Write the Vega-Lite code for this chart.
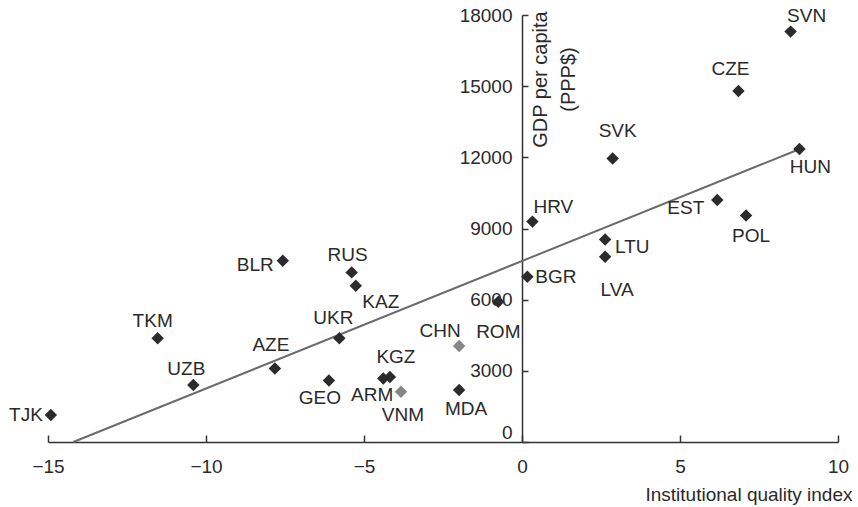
{
  "$schema": "https://vega.github.io/schema/vega-lite/v6.json",
  "width": 790,
  "height": 427,
  "autosize": {"type": "none"},
  "padding": {"left": 48, "top": 15, "right": 20, "bottom": 65},
  "background": "white",
  "config": {
    "font": "Liberation Sans",
    "view": {"stroke": null},
    "axis": {
      "grid": false,
      "domainColor": "#333333",
      "tickColor": "#333333",
      "domainWidth": 1.5,
      "tickWidth": 1.5,
      "labelFont": "Liberation Sans",
      "labelFontSize": 19,
      "labelColor": "#2a2a2a",
      "titleFont": "Liberation Sans",
      "titleFontSize": 19,
      "titleFontWeight": "normal",
      "titleColor": "#2a2a2a"
    }
  },
  "datasets": {
    "pts": [
      {"country": "SVN", "iqi": 8.5, "gdp": 17300},
      {"country": "CZE", "iqi": 6.85, "gdp": 14800},
      {"country": "HUN", "iqi": 8.78, "gdp": 12350},
      {"country": "EST", "iqi": 6.18, "gdp": 10200},
      {"country": "POL", "iqi": 7.09, "gdp": 9550},
      {"country": "SVK", "iqi": 2.87, "gdp": 11950},
      {"country": "HRV", "iqi": 0.33, "gdp": 9290},
      {"country": "LTU", "iqi": 2.63, "gdp": 8540},
      {"country": "LVA", "iqi": 2.63, "gdp": 7810},
      {"country": "BGR", "iqi": 0.17, "gdp": 6970},
      {"country": "ROM", "iqi": -0.75, "gdp": 5910},
      {"country": "CHN", "iqi": -1.99, "gdp": 4050},
      {"country": "MDA", "iqi": -1.99, "gdp": 2190},
      {"country": "KGZ", "iqi": -4.18, "gdp": 2740},
      {"country": "ARM", "iqi": -4.39, "gdp": 2680},
      {"country": "VNM", "iqi": -3.83, "gdp": 2120},
      {"country": "UKR", "iqi": -5.78, "gdp": 4370},
      {"country": "AZE", "iqi": -7.82, "gdp": 3100},
      {"country": "GEO", "iqi": -6.11, "gdp": 2590},
      {"country": "UZB", "iqi": -10.4, "gdp": 2400},
      {"country": "TKM", "iqi": -11.53, "gdp": 4370},
      {"country": "TJK", "iqi": -14.91, "gdp": 1140},
      {"country": "BLR", "iqi": -7.57, "gdp": 7640},
      {"country": "RUS", "iqi": -5.39, "gdp": 7150},
      {"country": "KAZ", "iqi": -5.26, "gdp": 6590}
    ],
    "fit": [
      {"iqi": -14.2, "gdp": 0},
      {"iqi": 8.75, "gdp": 12330}
    ]
  },
  "encoding": {
    "x": {
      "field": "iqi",
      "type": "quantitative",
      "scale": {"domain": [-15, 10], "nice": false, "zero": false},
      "axis": {
        "values": [-15, -10, -5, 0, 5, 10],
        "tickSize": -7,
        "labelFlush": false,
        "labelPadding": 22,
        "title": "Institutional quality index",
        "titleAnchor": "end",
        "titleAlign": "right",
        "titleBaseline": "middle",
        "titleX": 804,
        "titleY": 52
      }
    },
    "y": {
      "field": "gdp",
      "type": "quantitative",
      "scale": {"domain": [0, 18000], "nice": false},
      "axis": {
        "values": [0, 3000, 6000, 9000, 12000, 15000, 18000],
        "format": "d",
        "offset": -474,
        "tickSize": -6,
        "labelFlush": false,
        "labelPadding": 16,
        "labelBaseline": {"expr": "datum.value == 0 ? 'bottom' : 'middle'"},
        "title": ["GDP per capita", "(PPP$)"],
        "titleFontSize": 20,
        "titleAngle": -90,
        "titleAlign": "center",
        "titleBaseline": "middle",
        "titleLineHeight": 28,
        "titleX": 18,
        "titleY": 64
      }
    }
  },
  "layer": [
    {
      "data": {"name": "fit"},
      "mark": {"type": "line", "color": "#6b6b6b", "strokeWidth": 2}
    },
    {
      "data": {"name": "pts"},
      "mark": {"type": "point", "shape": "diamond", "filled": true, "size": 155, "opacity": 1},
      "encoding": {
        "color": {
          "condition": {"test": "datum.country == 'CHN' || datum.country == 'VNM'", "value": "#868686"},
          "value": "#2b2b2b"
        }
      }
    },
    {
      "data": {"name": "pts"},
      "encoding": {"text": {"field": "country", "type": "nominal"}},
      "layer": [
        {"transform": [{"filter": "datum.country == 'SVN'"}], "mark": {"type": "text", "fontSize": 19, "color": "#2a2a2a", "baseline": "middle", "align": "center", "dx": 16, "dy": -16}},
        {"transform": [{"filter": "datum.country == 'CZE'"}], "mark": {"type": "text", "fontSize": 19, "color": "#2a2a2a", "baseline": "middle", "align": "center", "dx": -8, "dy": -22}},
        {"transform": [{"filter": "datum.country == 'HUN'"}], "mark": {"type": "text", "fontSize": 19, "color": "#2a2a2a", "baseline": "middle", "align": "center", "dx": 11, "dy": 18}},
        {"transform": [{"filter": "datum.country == 'EST'"}], "mark": {"type": "text", "fontSize": 19, "color": "#2a2a2a", "baseline": "middle", "align": "right", "dx": -13, "dy": 8}},
        {"transform": [{"filter": "datum.country == 'POL'"}], "mark": {"type": "text", "fontSize": 19, "color": "#2a2a2a", "baseline": "middle", "align": "center", "dx": 5, "dy": 21}},
        {"transform": [{"filter": "datum.country == 'SVK'"}], "mark": {"type": "text", "fontSize": 19, "color": "#2a2a2a", "baseline": "middle", "align": "center", "dx": 5, "dy": -28}},
        {"transform": [{"filter": "datum.country == 'HRV'"}], "mark": {"type": "text", "fontSize": 19, "color": "#2a2a2a", "baseline": "middle", "align": "left", "dx": 1, "dy": -15}},
        {"transform": [{"filter": "datum.country == 'LTU'"}], "mark": {"type": "text", "fontSize": 19, "color": "#2a2a2a", "baseline": "middle", "align": "left", "dx": 10, "dy": 8}},
        {"transform": [{"filter": "datum.country == 'LVA'"}], "mark": {"type": "text", "fontSize": 19, "color": "#2a2a2a", "baseline": "middle", "align": "center", "dx": 12, "dy": 33}},
        {"transform": [{"filter": "datum.country == 'BGR'"}], "mark": {"type": "text", "fontSize": 19, "color": "#2a2a2a", "baseline": "middle", "align": "left", "dx": 8, "dy": 0}},
        {"transform": [{"filter": "datum.country == 'ROM'"}], "mark": {"type": "text", "fontSize": 19, "color": "#2a2a2a", "baseline": "middle", "align": "center", "dx": 0, "dy": 30}},
        {"transform": [{"filter": "datum.country == 'CHN'"}], "mark": {"type": "text", "fontSize": 19, "color": "#2a2a2a", "baseline": "middle", "align": "center", "dx": -19, "dy": -15}},
        {"transform": [{"filter": "datum.country == 'MDA'"}], "mark": {"type": "text", "fontSize": 19, "color": "#2a2a2a", "baseline": "middle", "align": "center", "dx": 7, "dy": 19}},
        {"transform": [{"filter": "datum.country == 'KGZ'"}], "mark": {"type": "text", "fontSize": 19, "color": "#2a2a2a", "baseline": "middle", "align": "center", "dx": 6, "dy": -20}},
        {"transform": [{"filter": "datum.country == 'ARM'"}], "mark": {"type": "text", "fontSize": 19, "color": "#2a2a2a", "baseline": "middle", "align": "right", "dx": 10, "dy": 17}},
        {"transform": [{"filter": "datum.country == 'VNM'"}], "mark": {"type": "text", "fontSize": 19, "color": "#2a2a2a", "baseline": "middle", "align": "center", "dx": 2, "dy": 23}},
        {"transform": [{"filter": "datum.country == 'UKR'"}], "mark": {"type": "text", "fontSize": 19, "color": "#2a2a2a", "baseline": "middle", "align": "center", "dx": -6, "dy": -20}},
        {"transform": [{"filter": "datum.country == 'AZE'"}], "mark": {"type": "text", "fontSize": 19, "color": "#2a2a2a", "baseline": "middle", "align": "center", "dx": -4, "dy": -23}},
        {"transform": [{"filter": "datum.country == 'GEO'"}], "mark": {"type": "text", "fontSize": 19, "color": "#2a2a2a", "baseline": "middle", "align": "center", "dx": -9, "dy": 17}},
        {"transform": [{"filter": "datum.country == 'UZB'"}], "mark": {"type": "text", "fontSize": 19, "color": "#2a2a2a", "baseline": "middle", "align": "center", "dx": -7, "dy": -16}},
        {"transform": [{"filter": "datum.country == 'TKM'"}], "mark": {"type": "text", "fontSize": 19, "color": "#2a2a2a", "baseline": "middle", "align": "center", "dx": -5, "dy": -17}},
        {"transform": [{"filter": "datum.country == 'TJK'"}], "mark": {"type": "text", "fontSize": 19, "color": "#2a2a2a", "baseline": "middle", "align": "right", "dx": -8, "dy": 0}},
        {"transform": [{"filter": "datum.country == 'BLR'"}], "mark": {"type": "text", "fontSize": 19, "color": "#2a2a2a", "baseline": "middle", "align": "right", "dx": -9, "dy": 4}},
        {"transform": [{"filter": "datum.country == 'RUS'"}], "mark": {"type": "text", "fontSize": 19, "color": "#2a2a2a", "baseline": "middle", "align": "center", "dx": -4, "dy": -17}},
        {"transform": [{"filter": "datum.country == 'KAZ'"}], "mark": {"type": "text", "fontSize": 19, "color": "#2a2a2a", "baseline": "middle", "align": "center", "dx": 25, "dy": 16}}
      ]
    }
  ]
}
